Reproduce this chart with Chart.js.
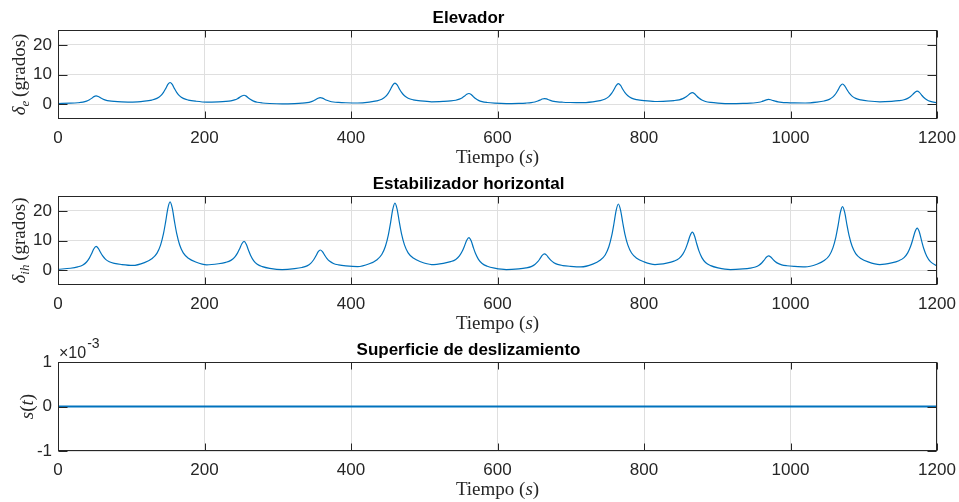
<!DOCTYPE html>
<html><head><meta charset="utf-8">
<script src="https://cdn.jsdelivr.net/npm/chart.js@4.4.1/dist/chart.umd.min.js"></script>
<style>
html,body{margin:0;padding:0;background:#fff;}
#wrap{position:relative;width:959px;height:502px;overflow:hidden;background:#fff;}
.panel{position:absolute;left:0;width:959px;height:170px;}
canvas{display:block;}
</style></head><body>
<div id="wrap">
<div class="panel" style="top:0"><canvas id="c1" width="959" height="170"></canvas></div>
<div class="panel" style="top:166px"><canvas id="c2" width="959" height="170"></canvas></div>
<div class="panel" style="top:332px"><canvas id="c3" width="959" height="170"></canvas></div>
</div>
<script>
// ---- data (time in s) ----
const TIME = [
0, 17, 27, 34, 39, 43, 46, 49, 52, 55, 58, 61, 65, 70, 77, 87,
102,
118, 128, 135, 140, 144, 147, 150, 153, 156, 159, 162, 166, 171, 178, 188,
203,
219, 229, 236, 241, 245, 248, 251, 254, 257, 260, 263, 267, 272, 279, 289,
306,
323, 333, 340, 345, 349, 352, 355, 358, 361, 364, 367, 371, 376, 383, 393,
409,
425, 435, 442, 447, 451, 454, 457, 460, 463, 466, 469, 473, 478, 485, 495,
510,
526, 536, 543, 548, 552, 555, 558, 561, 564, 567, 570, 574, 579, 586, 596,
612,
629, 639, 646, 651, 655, 658, 661, 664, 667, 670, 673, 677, 682, 689, 699,
714,
730, 740, 747, 752, 756, 759, 762, 765, 768, 771, 774, 778, 783, 790, 800,
815,
831, 841, 848, 853, 857, 860, 863, 866, 869, 872, 875, 879, 884, 891, 901,
918,
935, 945, 952, 957, 961, 964, 967, 970, 973, 976, 979, 983, 988, 995, 1005,
1020,
1036, 1046, 1053, 1058, 1062, 1065, 1068, 1071, 1074, 1077, 1080, 1084, 1089, 1096, 1106,
1122,
1138, 1148, 1155, 1160, 1164, 1167, 1170, 1173, 1176, 1179, 1182, 1186, 1191, 1200
];

const ELEVADOR = [
0.2, 0.32, 0.47, 0.69, 1.03, 1.5, 1.99, 2.54, 2.8, 2.59, 2.15, 1.75, 1.37, 1.1, 0.92, 0.79,
0.7,
1.0, 1.39, 1.95, 2.81, 4.0, 5.25, 6.64, 7.3, 6.64, 5.25, 4.0, 2.81, 1.95, 1.39, 1.0,
0.7,
0.8, 0.94, 1.14, 1.44, 1.85, 2.29, 2.77, 3.0, 2.71, 2.1, 1.55, 1.03, 0.65, 0.4, 0.23,
0.1,
0.19, 0.32, 0.5, 0.77, 1.15, 1.55, 1.99, 2.2, 2.02, 1.64, 1.3, 0.98, 0.74, 0.59, 0.48,
0.4,
0.7, 1.1, 1.67, 2.54, 3.75, 5.02, 6.43, 7.1, 6.47, 5.15, 3.95, 2.82, 2.0, 1.46, 1.08,
0.8,
0.93, 1.09, 1.33, 1.7, 2.2, 2.73, 3.32, 3.6, 3.26, 2.55, 1.9, 1.29, 0.85, 0.56, 0.35,
0.2,
0.28, 0.38, 0.52, 0.74, 1.05, 1.37, 1.73, 1.9, 1.76, 1.47, 1.2, 0.95, 0.77, 0.65, 0.56,
0.5,
0.79, 1.17, 1.72, 2.55, 3.7, 4.92, 6.26, 6.9, 6.3, 5.04, 3.9, 2.82, 2.04, 1.53, 1.17,
0.9,
1.04, 1.22, 1.47, 1.86, 2.4, 2.97, 3.6, 3.9, 3.53, 2.75, 2.05, 1.38, 0.9, 0.59, 0.37,
0.2,
0.26, 0.35, 0.47, 0.65, 0.9, 1.17, 1.46, 1.6, 1.48, 1.23, 1.0, 0.78, 0.63, 0.53, 0.45,
0.4,
0.69, 1.07, 1.62, 2.45, 3.6, 4.82, 6.16, 6.8, 6.2, 4.94, 3.8, 2.72, 1.94, 1.43, 1.07,
0.8,
0.96, 1.18, 1.48, 1.95, 2.6, 3.28, 4.04, 4.4, 3.97, 3.07, 2.25, 1.48, 0.92, 0.49
];

const ESTABILIZADOR = [
0.3, 0.65, 1.11, 1.76, 2.76, 4.15, 5.61, 7.23, 8.0, 7.36, 6.02, 4.8, 3.65, 2.82, 2.27, 1.89,
1.6,
2.56, 3.85, 5.67, 8.45, 12.3, 16.37, 20.86, 23.0, 20.88, 16.43, 12.4, 8.58, 5.83, 4.03, 2.75,
1.8,
2.16, 2.63, 3.3, 4.33, 5.75, 7.25, 8.91, 9.7, 8.75, 6.76, 4.95, 3.24, 2.0, 1.2, 0.63,
0.2,
0.5, 0.89, 1.45, 2.31, 3.5, 4.75, 6.14, 6.8, 6.24, 5.06, 4.0, 2.99, 2.26, 1.79, 1.45,
1.2,
2.16, 3.45, 5.27, 8.05, 11.9, 15.97, 20.46, 22.6, 20.53, 16.18, 12.25, 8.52, 5.83, 4.07, 2.83,
1.9,
2.31, 2.86, 3.63, 4.81, 6.45, 8.18, 10.09, 11.0, 9.92, 7.65, 5.6, 3.66, 2.25, 1.33, 0.69,
0.2,
0.44, 0.76, 1.21, 1.9, 2.85, 3.86, 4.97, 5.5, 5.06, 4.14, 3.3, 2.51, 1.94, 1.56, 1.3,
1.1,
2.05, 3.33, 5.13, 7.88, 11.7, 15.73, 20.18, 22.3, 20.26, 15.98, 12.1, 8.43, 5.78, 4.04, 2.82,
1.9,
2.39, 3.04, 3.97, 5.39, 7.35, 9.42, 11.71, 12.8, 11.54, 8.89, 6.5, 4.23, 2.59, 1.52, 0.77,
0.2,
0.41, 0.68, 1.07, 1.67, 2.5, 3.37, 4.34, 4.8, 4.43, 3.65, 2.95, 2.28, 1.8, 1.49, 1.27,
1.1,
2.01, 3.23, 4.96, 7.6, 11.25, 15.1, 19.37, 21.4, 19.45, 15.36, 11.65, 8.14, 5.6, 3.95, 2.78,
1.9,
2.45, 3.19, 4.24, 5.84, 8.05, 10.39, 12.97, 14.2, 12.8, 9.86, 7.2, 4.68, 2.86, 1.45
];

const S_TIME = [0, 1200];
const S_VALUES = [0, 0];

const X_TICKS = [0, 200, 400, 600, 800, 1000, 1200];
const Y_TICKS_DEG = [0, 10, 20];
const Y_TICKS_S = [-0.001, 0, 0.001];
const TITLES = ['Elevador', 'Estabilizador horizontal', 'Superficie de deslizamiento'];

// ---- styling ----
const SANS = '"Liberation Sans", Arial, Helvetica, sans-serif';
const SERIF = '"Liberation Serif", "Times New Roman", serif';
const AX = '#262626';
const BLUE = '#0072BD';
const GRID = '#dfdfdf';

const F_REG = '19px ' + SERIF;
const F_IT = 'italic 19px ' + SERIF;
const F_SUB = 'italic 13px ' + SERIF;

const X_TITLE_PARTS = [
  {t: 'Tiempo (', f: F_REG},
  {t: 's', f: F_IT},
  {t: ')', f: F_REG}
];

function drawRich(ctx, parts, cx, cy, rot) {
  ctx.save();
  ctx.translate(cx, cy);
  if (rot) ctx.rotate(-Math.PI / 2);
  ctx.fillStyle = AX;
  ctx.textBaseline = 'alphabetic';
  ctx.textAlign = 'left';
  let w = 0;
  parts.forEach(p => { ctx.font = p.f; w += ctx.measureText(p.t).width; });
  let x = -w / 2;
  parts.forEach(p => {
    ctx.font = p.f;
    ctx.fillText(p.t, x, 6 + (p.dy || 0));
    x += ctx.measureText(p.t).width;
  });
  ctx.restore();
}

const matlabPlugin = {
  id: 'matlab',
  afterDraw(chart, args, o) {
    const ctx = chart.ctx, a = chart.chartArea;
    const xs = chart.scales.x, ys = chart.scales.y;
    ctx.save();
    ctx.strokeStyle = AX;
    ctx.lineWidth = 1;
    const L = Math.round(a.left) + 0.5, R = Math.round(a.right) - 0.5;
    const T = Math.round(a.top) + 0.5, B = Math.round(a.bottom) - 0.5;
    ctx.beginPath();
    X_TICKS.forEach(v => {
      const p = Math.round(xs.getPixelForValue(v)) + 0.5;
      ctx.moveTo(p, B); ctx.lineTo(p, B - 7);
      ctx.moveTo(p, T); ctx.lineTo(p, T + 7);
    });
    o.yTicks.forEach(v => {
      const p = Math.round(ys.getPixelForValue(v)) + 0.5;
      ctx.moveTo(L, p); ctx.lineTo(L + 9, p);
      ctx.moveTo(R, p); ctx.lineTo(R - 9, p);
    });
    ctx.stroke();
    ctx.strokeRect(L, T, R - L, B - T);
    drawRich(ctx, X_TITLE_PARTS, (a.left + a.right) / 2, 157, false);
    drawRich(ctx, o.yTitle, o.yTitleX, (a.top + a.bottom) / 2, true);
    if (o.exponent) {
      ctx.fillStyle = AX;
      ctx.textAlign = 'left';
      ctx.textBaseline = 'alphabetic';
      ctx.font = '16px ' + SANS;
      ctx.fillText('\u00d710', 59, 26);
      const w = ctx.measureText('\u00d710').width;
      ctx.font = '14px ' + SANS;
      ctx.fillText('-3', 59 + w + 1, 16);
    }
    ctx.restore();
  }
};

function makeChart(id, title, xs, ys, yMin, yMax, yTicks, yCb, lw, mopts) {
  const ctx = document.getElementById(id);
  return new Chart(ctx, {
    type: 'line',
    data: {
      datasets: [{
        data: xs.map((x, i) => ({x: x, y: ys[i]})),
        borderColor: BLUE,
        borderWidth: lw,
        pointRadius: 0,
        fill: false,
        cubicInterpolationMode: 'monotone'
      }]
    },
    options: {
      responsive: false,
      animation: false,
      devicePixelRatio: 1,
      layout: {padding: {left: 0, right: 22, top: 0, bottom: 0}},
      plugins: {
        legend: {display: false},
        tooltip: {enabled: false},
        title: {
          display: true, text: title, color: '#000',
          font: {family: SANS, size: 17, weight: 'bold'},
          padding: {top: 8, bottom: 1.6}
        },
        matlab: Object.assign({yTicks: yTicks}, mopts)
      },
      scales: {
        x: {
          type: 'linear', min: 0, max: 1200,
          afterBuildTicks: s => { s.ticks = X_TICKS.map(v => ({value: v})); },
          afterFit: s => { s.height = 51; s.paddingLeft = 0; s.paddingRight = 0; },
          grid: {color: GRID, drawTicks: false, lineWidth: 1},
          border: {display: false},
          ticks: {color: AX, font: {family: SANS, size: 17}, padding: 8.8,
                  maxRotation: 0, autoSkip: false, callback: v => String(v)}
        },
        y: {
          type: 'linear', min: yMin, max: yMax,
          afterBuildTicks: s => { s.ticks = yTicks.map(v => ({value: v})); },
          afterFit: s => { s.width = 58; s.paddingTop = 0; s.paddingBottom = 0; },
          grid: {color: GRID, drawTicks: false, lineWidth: 1},
          border: {display: false},
          ticks: {color: AX, font: {family: SANS, size: 17}, padding: 6,
                  autoSkip: false, callback: yCb}
        }
      }
    },
    plugins: [matlabPlugin]
  });
}

makeChart('c1', TITLES[0], TIME, ELEVADOR, -5, 25, Y_TICKS_DEG, v => String(v), 1.2, {
  yTitleX: 19,
  yTitle: [{t: '\u03b4', f: F_IT}, {t: 'e', f: F_SUB, dy: 4}, {t: '\u2009(grados)', f: F_REG}]
});
makeChart('c2', TITLES[1], TIME, ESTABILIZADOR, -5, 25, Y_TICKS_DEG, v => String(v), 1.2, {
  yTitleX: 19,
  yTitle: [{t: '\u03b4', f: F_IT}, {t: 'ih', f: F_SUB, dy: 4}, {t: '\u2009(grados)', f: F_REG}]
});
makeChart('c3', TITLES[2], S_TIME, S_VALUES, -0.001, 0.001, Y_TICKS_S,
  v => (v === 0 ? '0' : String(Math.round(v * 1000))), 2, {
  yTitleX: 27,
  exponent: true,
  yTitle: [{t: 's', f: F_IT}, {t: '(', f: F_REG}, {t: 't', f: F_IT}, {t: ')', f: F_REG}]
});
</script>
</body></html>
